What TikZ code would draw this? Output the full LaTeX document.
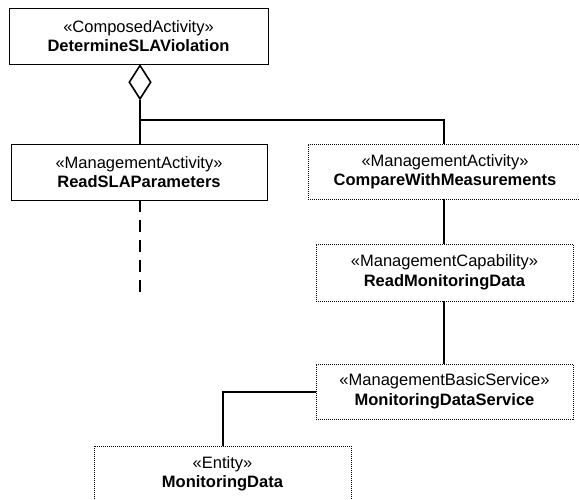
\documentclass[tikz,border=0pt]{standalone}
\usepackage{fontspec}
\setmainfont{Liberation Sans}
\usetikzlibrary{shapes.geometric}
\begin{document}
\begin{tikzpicture}[x=1pt,y=-1pt,
  box/.style={rectangle, draw, line width=0.8pt, align=center, inner sep=0pt,
    font=\fontsize{16.5}{19.5}\selectfont, minimum height=56pt},
  solidbox/.style={box},
  dotbox/.style={box, dash pattern=on 1pt off 1pt},
  conn/.style={line width=2pt},
  agg/.style={diamond, draw, line width=1.6pt, inner sep=0pt, minimum width=22pt, minimum height=34pt, aspect=0.65}
]
\useasboundingbox (0,0) rectangle (579,500);
\clip (0,0) rectangle (579,500);
\node[solidbox, minimum width=259pt] (dsv) at (138.5,36) {«ComposedActivity»\\\textbf{DetermineSLAViolation}};
\node[solidbox, minimum width=256pt] (rsp) at (139,172) {«ManagementActivity»\\\textbf{ReadSLAParameters}};
\node[dotbox, minimum width=274pt, minimum height=55pt] (cwm) at (445,171.5) {«ManagementActivity»\\\textbf{CompareWithMeasurements}};
\node[dotbox, minimum width=257pt, minimum height=57pt] (rmd) at (444.5,272.5) {«ManagementCapability»\\\textbf{ReadMonitoringData}};
\node[dotbox, minimum width=257pt, minimum height=55pt] (mds) at (444.5,391.5) {«ManagementBasicService»\\\textbf{MonitoringDataService}};
\node[dotbox, minimum width=257pt, minimum height=56pt] (md) at (222.5,474) {«Entity»\\\textbf{MonitoringData}};
\node[agg, anchor=north] (dia) at (dsv.south -| 140,0) {};
\coordinate (j) at (140,120);
\coordinate (dashend) at (rsp.south |- 0,298);
\draw[conn] (dia.south) -- (dia.south |- rsp.north);
\draw[conn] (j) -| (cwm.north -| 444,0);
\draw[conn, dash pattern=on 12pt off 8pt] (rsp.south -| 140,0) -- (dashend -| 140,0);
\draw[conn] (cwm.south -| 444,0) -- (rmd.north -| 444,0);
\draw[conn] (rmd.south -| 444,0) -- (mds.north -| 444,0);
\draw[conn] (mds.west |- 0,392) -| (md.north -| 223,0);
\end{tikzpicture}
\end{document}
